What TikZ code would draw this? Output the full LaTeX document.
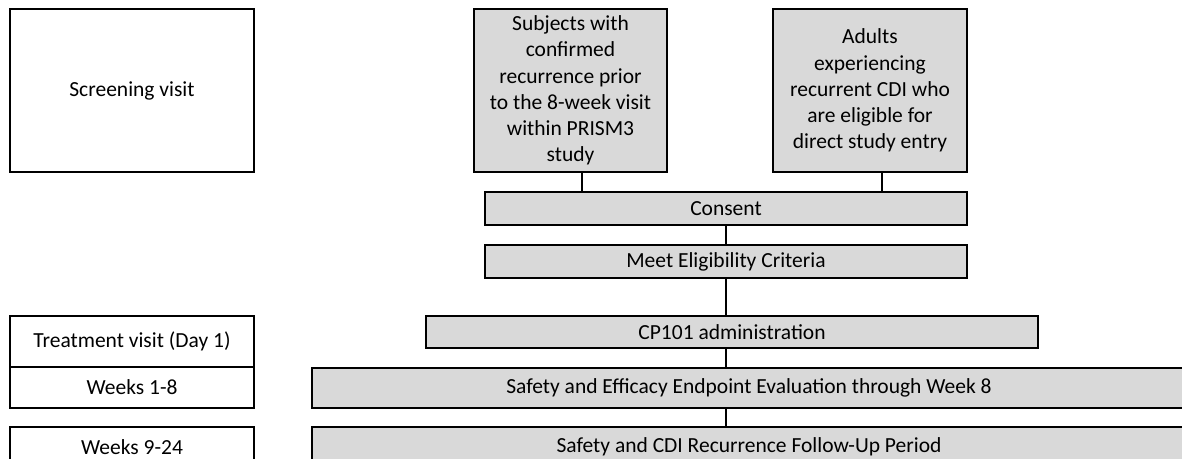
\documentclass[tikz,border=0pt]{standalone}
\usepackage{fontspec}
\setmainfont{Carlito}
\definecolor{boxgray}{HTML}{D9D9D9}

\begin{document}
\begin{tikzpicture}[x=0.5pt, y=-0.5pt,
    box/.style={draw, line width=1.2pt, fill=boxgray, inner sep=0pt, align=center,
        font=\fontsize{10.75}{13.1}\selectfont},
    visit/.style={box, fill=white, minimum width=122pt},
    link/.style={line width=1pt}]
    \useasboundingbox (0,0) rectangle (1182,459);

    \node[visit, line width=1.4pt, minimum height=81.5pt] (screen) at (132,90.5) {Screening visit};
    \node[box, minimum width=96.5pt, minimum height=81.5pt] (subj) at (570.5,90.5)
        {Subjects with\\confirmed\\recurrence prior\\to the 8-week visit\\within PRISM3\\study};
    \node[box, minimum width=97pt, minimum height=81.5pt] (adult) at (870,90.5)
        {Adults\\experiencing\\recurrent CDI who\\are eligible for\\direct study entry};

    \node[box, minimum width=241pt, minimum height=16.5pt] (consent) at (726,208.5) {Consent};
    \node[box, minimum width=241pt, minimum height=16.5pt] (meet) at (726,261.5) {Meet Eligibility Criteria};
    \node[box, minimum width=306pt, minimum height=16pt] (cp) at (732,332) {CP101 administration};
    \node[box, minimum width=437pt, minimum height=20pt] (eff) at (749,388)
        {Safety and Efficacy Endpoint Evaluation through Week 8};
    \node[box, minimum width=437pt, minimum height=20pt] (follow) at (749,447)
        {Safety and CDI Recurrence Follow-Up Period};

    \node[visit, minimum height=25.5pt] (treat) at (132,341.5) {Treatment visit (Day 1)};
    \node[visit, minimum height=20.5pt] (wk1) at (132,387.5) {Weeks 1-8};
    \node[visit, minimum height=20pt] (wk9) at (132,447) {Weeks 9-24};

    \coordinate (s1) at ([xshift=5.75pt]subj.south);
    \coordinate (a1) at ([xshift=6pt]adult.south);
    \draw[link] (s1) -- (s1 |- consent.north);
    \draw[line width=0.6pt] (a1) -- (a1 |- consent.north);

    \draw[link] (consent.south) -- (meet.north);
    \draw[link] (meet.south) -- (meet.south |- cp.north);
    \draw[link] (meet.south |- cp.south) -- (meet.south |- eff.north);
    \draw[link] (meet.south |- eff.south) -- (meet.south |- follow.north);
\end{tikzpicture}
\end{document}
